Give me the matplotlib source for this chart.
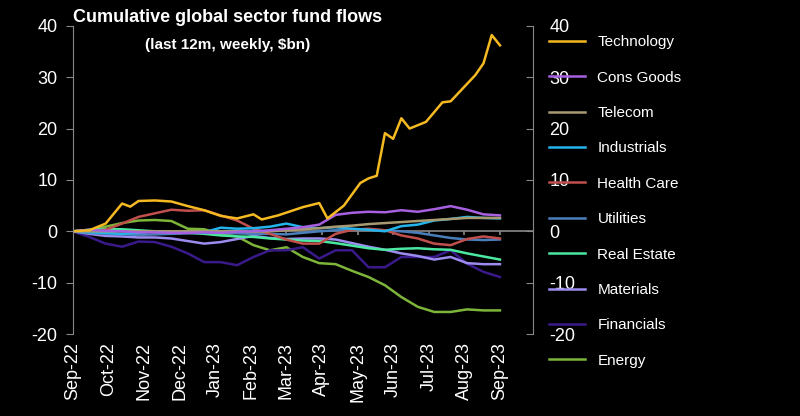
import matplotlib
matplotlib.use("Agg")
import matplotlib.pyplot as plt
import numpy as np

plt.rcParams['font.family'] = ['Liberation Sans', 'DejaVu Sans']
plt.rcParams['axes.unicode_minus'] = False

# biweekly grid (week numbers) for most series
weeks = list(range(0, 53, 2))

tech_weeks = [0, 2, 4, 6, 7, 8, 10, 12, 14, 16, 18, 20, 22, 23, 25, 28, 30, 31, 33, 35, 36, 37,
              38, 39, 40, 41, 43, 45, 46, 49, 50, 51, 52]
technology = [0, 0.2, 1.5, 5.4, 4.8, 5.9, 6, 5.8, 4.9, 4.1, 3, 2.5, 3.3, 2.3, 3.1, 4.7, 5.5, 2.5,
              5, 9.4, 10.3, 10.8, 19.1, 18, 22, 20, 21.3, 25.1, 25.3, 30.4, 32.7, 38.2, 36.2]

cons_goods = [0, 0.3, 0.1, 0, -0.2, -0.2, -0.3, -0.3, -0.2, -0.3, -0.1, 0, 0.2, 0.5, 0.8, 1.3,
              3.2, 3.6, 3.8, 3.7, 4.1, 3.8, 4.3, 4.9, 4.2, 3.3, 3.1]
telecom = [0, 0, 0, 0, 0, 0, 0, 0, 0, 0, 0, -0.1, 0, 0.2, 0.4, 0.6, 0.9, 1.1, 1.4, 1.6, 1.8, 2,
           2.2, 2.4, 2.6, 2.6, 2.6]
industrials = [0, -0.2, -0.3, -0.5, -0.3, 0, -0.2, -0.1, -0.2, 0.7, 0.5, 0.6, 0.9, 1.5, 0.8, 0.6,
               0.8, 0.5, 0.3, 0, 1, 1.3, 2.1, 2.4, 2.8, 2.6, 2.5]
health_care = [0, 0, 0.3, 1.5, 2.8, 3.5, 4.2, 4, 4.1, 3.1, 2.1, 0.5, -0.5, -1.6, -2.4, -2.4, -0.5,
               0.3, 0.5, 0.2, -0.8, -1.4, -2.4, -2.7, -1.5, -1, -1.4]
utilities = [0, -0.3, -0.5, -0.6, -0.7, -0.6, -0.5, -0.4, -0.3, -0.3, -0.4, -0.5, -0.5, -0.6, -0.3,
             0, 0.2, 0.4, 0.3, 0.2, 0, -0.3, -0.8, -1.3, -1.6, -1.7, -1.6]
real_estate = [0, 0.3, 0.4, 0.4, 0.2, 0, -0.2, -0.3, -0.5, -0.8, -1, -1.1, -1.4, -1.6, -1.8, -1.9,
               -2.3, -2.8, -3.3, -3.6, -3.4, -3.3, -3.5, -3.6, -4.3, -4.9, -5.5]
materials = [0, -0.5, -0.9, -1, -1.2, -1.2, -1.4, -1.9, -2.4, -2.1, -1.5, -0.9, -1.3, -1.5, -1.4,
             -1.4, -1.6, -2.3, -3, -3.6, -4.3, -4.8, -5.5, -5, -6.2, -6.4, -6.4]
financials = [0, -1.1, -2.4, -3, -2, -2.1, -3, -4.3, -6, -6, -6.6, -5, -3.7, -3.7, -3.1, -5.3,
              -3.7, -3.7, -7, -7, -5, -5, -5, -3.7, -6.3, -7.9, -8.9]
energy = [0, 0.2, 0.9, 1.6, 2.1, 2.2, 2, 0.5, 0.4, -0.5, -1, -2.7, -3.7, -3.1, -5, -6.2, -6.4,
          -7.7, -8.9, -10.5, -12.8, -14.7, -15.7, -15.7, -15.2, -15.4, -15.4]

month_labels = ["Sep-22", "Oct-22", "Nov-22", "Dec-22", "Jan-23", "Feb-23", "Mar-23",
                "Apr-23", "May-23", "Jun-23", "Jul-23", "Aug-23", "Sep-23"]

series = [
    ("Technology", tech_weeks, technology, "#F5B921"),
    ("Cons Goods", weeks, cons_goods, "#A660E0"),
    ("Telecom", weeks, telecom, "#A89A70"),
    ("Industrials", weeks, industrials, "#22B4EA"),
    ("Health Care", weeks, health_care, "#C0504D"),
    ("Utilities", weeks, utilities, "#4A7EBB"),
    ("Real Estate", weeks, real_estate, "#4BE8A2"),
    ("Materials", weeks, materials, "#9C8CF0"),
    ("Financials", weeks, financials, "#3A1A8A"),
    ("Energy", weeks, energy, "#7DB53A"),
]

fig = plt.figure(figsize=(8, 4.16), dpi=100, facecolor="black")
ax = fig.add_axes([0.091, 0.197, 0.575, 0.741], facecolor="black")

for name, w, v, c in reversed(series):
    ax.plot(w, v, color=c, linewidth=1.8, label=name)

ax.set_xlim(0, 56)
ax.set_ylim(-20, 40)
ax.set_yticks([-20, -10, 0, 10, 20, 30, 40])
ax.axhline(0, color="#888888", linewidth=1.2, zorder=0)
mpos = np.arange(13) * 52 / 12
ax.vlines(mpos, -0.8, 0, color="#888888", linewidth=1.2, zorder=0)
ax.set_xticks(mpos)
ax.set_xticklabels(month_labels, rotation=90, color="white", fontsize=13)
ax.tick_params(axis="x", length=0, pad=6)
ax.tick_params(axis="y", colors="#888888", labelcolor="white", labelsize=13, length=5,
               direction="out", pad=6)

for s in ["top", "bottom"]:
    ax.spines[s].set_visible(False)
ax.spines["left"].set_color("#888888")
ax.spines["right"].set_visible(False)

ax2 = ax.twinx()
ax2.set_ylim(-20, 40)
ax2.set_yticks([-20, -10, 0, 10, 20, 30, 40])
ax2.tick_params(axis="y", colors="#888888", labelcolor="white", labelsize=13, length=5,
                direction="in", pad=12)
for s in ["top", "bottom", "left"]:
    ax2.spines[s].set_visible(False)
ax2.spines["right"].set_color("#888888")

fig.text(0.285, 0.957, "Cumulative global sector fund flows", color="white", fontsize=13,
         fontweight="bold", ha="center", va="center",
         family=["Liberation Sans Narrow", "Liberation Sans"])
fig.text(0.285, 0.893, "(last 12m, weekly, $bn)", color="white", fontsize=11,
         fontweight="bold", ha="center", va="center",
         family=["Liberation Sans Narrow", "Liberation Sans"])

h, l = ax.get_legend_handles_labels()
leg = fig.legend(h[::-1], l[::-1], loc="upper left", bbox_to_anchor=(0.678, 0.93),
                 frameon=False, fontsize=11, labelcolor="white", handlelength=2.4,
                 labelspacing=1.4, borderaxespad=0)

fig.savefig("out.png", dpi=100, facecolor="black")
